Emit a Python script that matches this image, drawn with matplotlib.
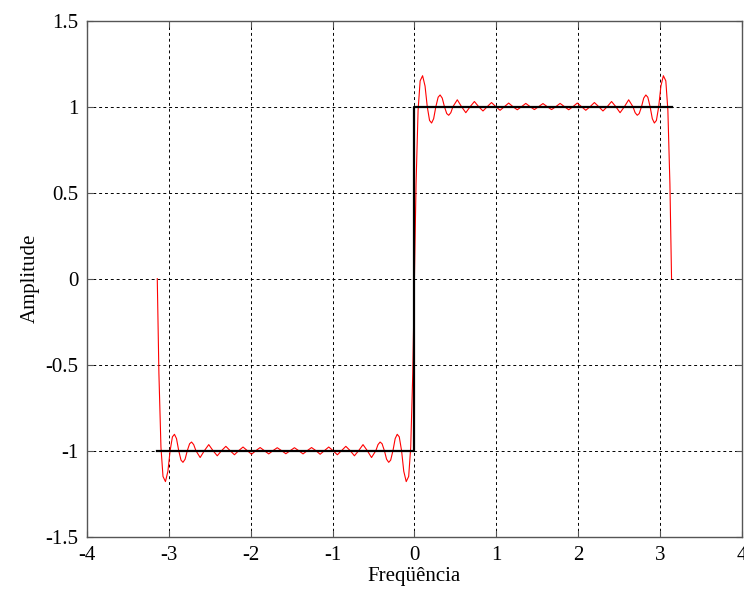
import matplotlib
matplotlib.use("Agg")
import matplotlib.pyplot as plt

# Fourier approximation (red curve): extrema and crossings
red_x = [
    -3.142, -3.122, -3.097, -3.072, -3.042, -3.012, -2.985, -2.957, -2.932, -2.907,
    -2.880, -2.852, -2.828, -2.802, -2.775, -2.747, -2.723, -2.697, -2.670, -2.618,
    -2.566, -2.513, -2.461, -2.409, -2.356, -2.304, -2.252, -2.199, -2.147, -2.094,
    -2.042, -1.990, -1.937, -1.885, -1.833, -1.780, -1.728, -1.676, -1.623, -1.571,
    -1.518, -1.466, -1.414, -1.361, -1.309, -1.257, -1.204, -1.152, -1.100, -1.047,
    -0.995, -0.942, -0.890, -0.838, -0.785, -0.733, -0.681, -0.628, -0.576, -0.524,
    -0.471, -0.445, -0.419, -0.395, -0.367, -0.340, -0.314, -0.290, -0.262, -0.235,
    -0.210, -0.185, -0.157, -0.130, -0.100, -0.070, -0.045, -0.020,
    0.000,
    0.020, 0.045, 0.070, 0.100, 0.130, 0.157, 0.185, 0.210, 0.235, 0.262,
    0.290, 0.314, 0.340, 0.367, 0.395, 0.419, 0.445, 0.471, 0.524, 0.576,
    0.628, 0.681, 0.733, 0.785, 0.838, 0.890, 0.942, 0.995, 1.047, 1.100,
    1.152, 1.204, 1.257, 1.309, 1.361, 1.414, 1.466, 1.518, 1.571, 1.623,
    1.676, 1.728, 1.780, 1.833, 1.885, 1.937, 1.990, 2.042, 2.094, 2.147,
    2.199, 2.252, 2.304, 2.356, 2.409, 2.461, 2.513, 2.566, 2.618, 2.670,
    2.697, 2.723, 2.747, 2.775, 2.802, 2.828, 2.852, 2.880, 2.907, 2.932,
    2.957, 2.985, 3.012, 3.042, 3.072, 3.097, 3.122, 3.142,
]
red_y = [
    -0.00, -0.55, -0.98, -1.15, -1.18, -1.12, -1.00, -0.92, -0.905, -0.93,
    -1.00, -1.055, -1.068, -1.05, -1.00, -0.96, -0.950, -0.965, -1.00, -1.040,
    -1.00, -0.965, -1.00, -1.030, -1.00, -0.975, -1.00, -1.024, -1.00, -0.979,
    -1.00, -1.021, -1.00, -0.982, -1.00, -1.019, -1.00, -0.983, -1.00, -1.018,
    -1.00, -0.983, -1.00, -1.019, -1.00, -0.982, -1.00, -1.021, -1.00, -0.979,
    -1.00, -1.024, -1.00, -0.975, -1.00, -1.030, -1.00, -0.965, -1.00, -1.040,
    -1.00, -0.965, -0.950, -0.96, -1.00, -1.05, -1.068, -1.055, -1.00, -0.93,
    -0.905, -0.92, -1.00, -1.12, -1.18, -1.15, -0.98, -0.55,
    0.00,
    0.55, 0.98, 1.15, 1.18, 1.12, 1.00, 0.92, 0.905, 0.93, 1.00,
    1.055, 1.068, 1.05, 1.00, 0.96, 0.950, 0.965, 1.00, 1.040, 1.00,
    0.965, 1.00, 1.030, 1.00, 0.975, 1.00, 1.024, 1.00, 0.979, 1.00,
    1.021, 1.00, 0.982, 1.00, 1.019, 1.00, 0.983, 1.00, 1.018, 1.00,
    0.983, 1.00, 1.019, 1.00, 0.982, 1.00, 1.021, 1.00, 0.979, 1.00,
    1.024, 1.00, 0.975, 1.00, 1.030, 1.00, 0.965, 1.00, 1.040, 1.00,
    0.965, 0.950, 0.96, 1.00, 1.05, 1.068, 1.055, 1.00, 0.93, 0.905,
    0.92, 1.00, 1.12, 1.18, 1.15, 0.98, 0.55, 0.00,
]

# Ideal square response (black)
square_x = [-3.1416, 0.0, 0.0, 3.1416]
square_y = [-1.0, -1.0, 1.0, 1.0]

x_ticks = [-4, -3, -2, -1, 0, 1, 2, 3, 4]
x_tick_labels = ["-4", "-3", "-2", "-1", "0", "1", "2", "3", "4"]
y_ticks = [-1.5, -1, -0.5, 0, 0.5, 1, 1.5]
y_tick_labels = ["-1.5", "-1", "-0.5", "0", "0.5", "1", "1.5"]

plt.rcParams["font.family"] = ["Liberation Serif", "DejaVu Serif"]

fig = plt.figure(figsize=(7.44, 5.91), dpi=100)
ax = fig.add_axes([0.117, 0.092, 0.880, 0.873])

ax.plot(red_x, red_y, color="#ff0000", linewidth=0.8, zorder=3)
ax.plot(square_x, square_y, color="black", linewidth=1.6, zorder=4)

ax.set_xlim(-4, 4)
ax.set_ylim(-1.5, 1.5)
ax.set_xticks(x_ticks)
ax.set_xticklabels(x_tick_labels)
ax.set_yticks(y_ticks)
ax.set_yticklabels(y_tick_labels)

ax.grid(True, color="black", linestyle=(0, (3, 3)), linewidth=0.7)
ax.set_axisbelow(True)

for s in ax.spines.values():
    s.set_color("#555555")
    s.set_linewidth(1.0)

ax.tick_params(direction="in", length=4, width=0.8, color="#555555",
               top=True, right=True, labelsize=15, labelcolor="black")
ax.tick_params(axis="x", pad=7)
ax.tick_params(axis="y", pad=6)

ax.set_xlabel("Freqüência", fontsize=15, labelpad=1)
ax.set_ylabel("Amplitude", fontsize=15, labelpad=4)

fig.savefig("out.png", dpi=100)
